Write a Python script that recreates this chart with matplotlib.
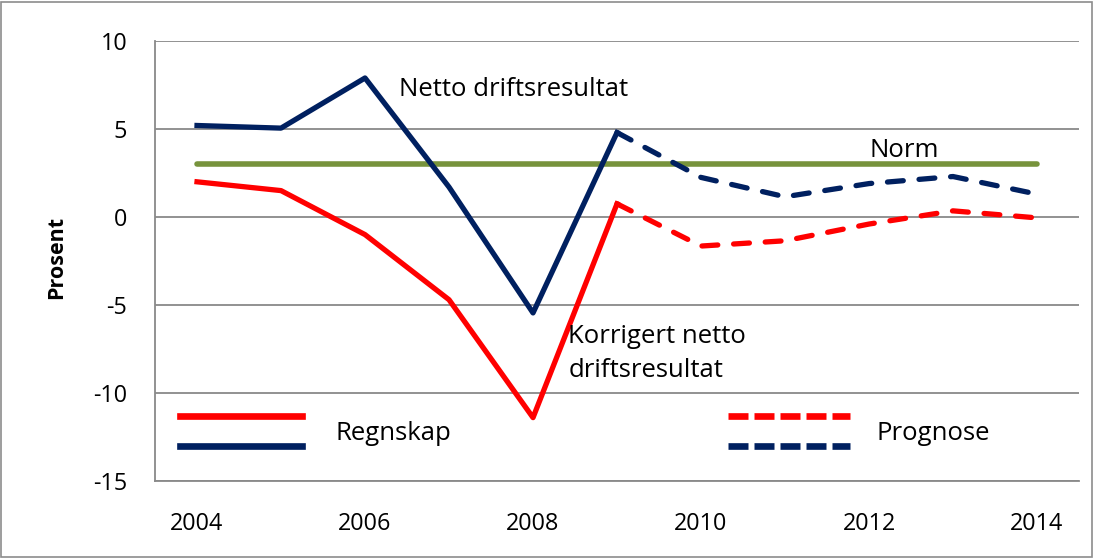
import matplotlib
matplotlib.use('Agg')
import matplotlib.pyplot as plt
from matplotlib.lines import Line2D
from matplotlib.patches import Rectangle

# data
aar_regnskap = [2004, 2005, 2006, 2007, 2008, 2009]
netto_regnskap = [5.2, 5.05, 7.9, 1.7, -5.45, 4.8]
korr_regnskap = [2.0, 1.5, -1.0, -4.7, -11.4, 0.75]

aar_prognose = [2009, 2010, 2011, 2012, 2013, 2014]
netto_prognose = [4.8, 2.25, 1.15, 1.9, 2.3, 1.3]
korr_prognose = [0.75, -1.65, -1.35, -0.4, 0.35, -0.05]

aar_norm = [2004, 2014]
norm = [3, 3]

xticks = [2004, 2006, 2008, 2010, 2012, 2014]
yticks = [-15, -10, -5, 0, 5, 10]

rod = '#FF0000'
bla = '#002060'
gronn = '#77933C'
grid = '#898989'

plt.rcParams['font.family'] = ['Open Sans', 'DejaVu Sans']
plt.rcParams['axes.unicode_minus'] = False

fig = plt.figure(figsize=(10.94, 5.58), dpi=100)
fig.patches.append(Rectangle((0.001, 0.002), 0.997, 0.995, transform=fig.transFigure,
                             fill=False, edgecolor='#8c8c8c', lw=1.2))
ax = fig.add_axes([0.1417, 0.138, 0.8446, 0.7885])

for y in yticks:
    ax.axhline(y, color=grid, lw=1.3, zorder=1)

ax.plot(aar_norm, norm, color=gronn, lw=4, solid_capstyle='round', zorder=2)
ax.plot(aar_regnskap, korr_regnskap, color=rod, lw=3.8, zorder=3)
ax.plot(aar_regnskap, netto_regnskap, color=bla, lw=3.8, zorder=3)
ax.plot(aar_prognose, korr_prognose, color=rod, lw=3.8, dashes=(3, 3),
        dash_capstyle='round', zorder=3)
ax.plot(aar_prognose, netto_prognose, color=bla, lw=3.8, dashes=(3, 3),
        dash_capstyle='round', zorder=3)

ax.set_xlim(2003.5, 2014.5)
ax.set_ylim(-15, 10)
ax.set_xticks(xticks)
ax.set_yticks(yticks)
ax.tick_params(length=0, labelsize=16.8)
ax.tick_params(axis='x', pad=22)
ax.tick_params(axis='y', pad=20)
ax.set_ylabel('Prosent', fontsize=15.5, fontweight='bold')
ax.yaxis.set_label_coords(-0.0955, 0.507)

for s in ['top', 'right']:
    ax.spines[s].set_visible(False)
for s in ['left', 'bottom']:
    ax.spines[s].set_color(grid)
    ax.spines[s].set_linewidth(1.3)

# tekst i plottet
ax.text(2006.40, 7.27, 'Netto driftsresultat', fontsize=18.5, va='center')
ax.text(2012.01, 3.8, 'Norm', fontsize=18.5, va='center')
ax.text(2008.42, -7.75, 'Korrigert netto\ndriftsresultat', fontsize=18.5, va='center',
        linespacing=1.5)

# forklaring
ax.add_line(Line2D([0.027, 0.159], [0.148, 0.148], transform=ax.transAxes, color=rod, lw=4.8))
ax.add_line(Line2D([0.027, 0.159], [0.080, 0.080], transform=ax.transAxes, color=bla, lw=4.8))
ax.text(0.195, 0.107, 'Regnskap', transform=ax.transAxes, fontsize=18.5, va='center')
ax.add_line(Line2D([0.620, 0.752], [0.148, 0.148], transform=ax.transAxes, color=rod, lw=4.8,
                   dashes=(3, 0.9)))
ax.add_line(Line2D([0.620, 0.752], [0.080, 0.080], transform=ax.transAxes, color=bla, lw=4.8,
                   dashes=(3, 0.9)))
ax.text(0.781, 0.107, 'Prognose', transform=ax.transAxes, fontsize=18.5, va='center')

fig.savefig('out.png', dpi=100)
